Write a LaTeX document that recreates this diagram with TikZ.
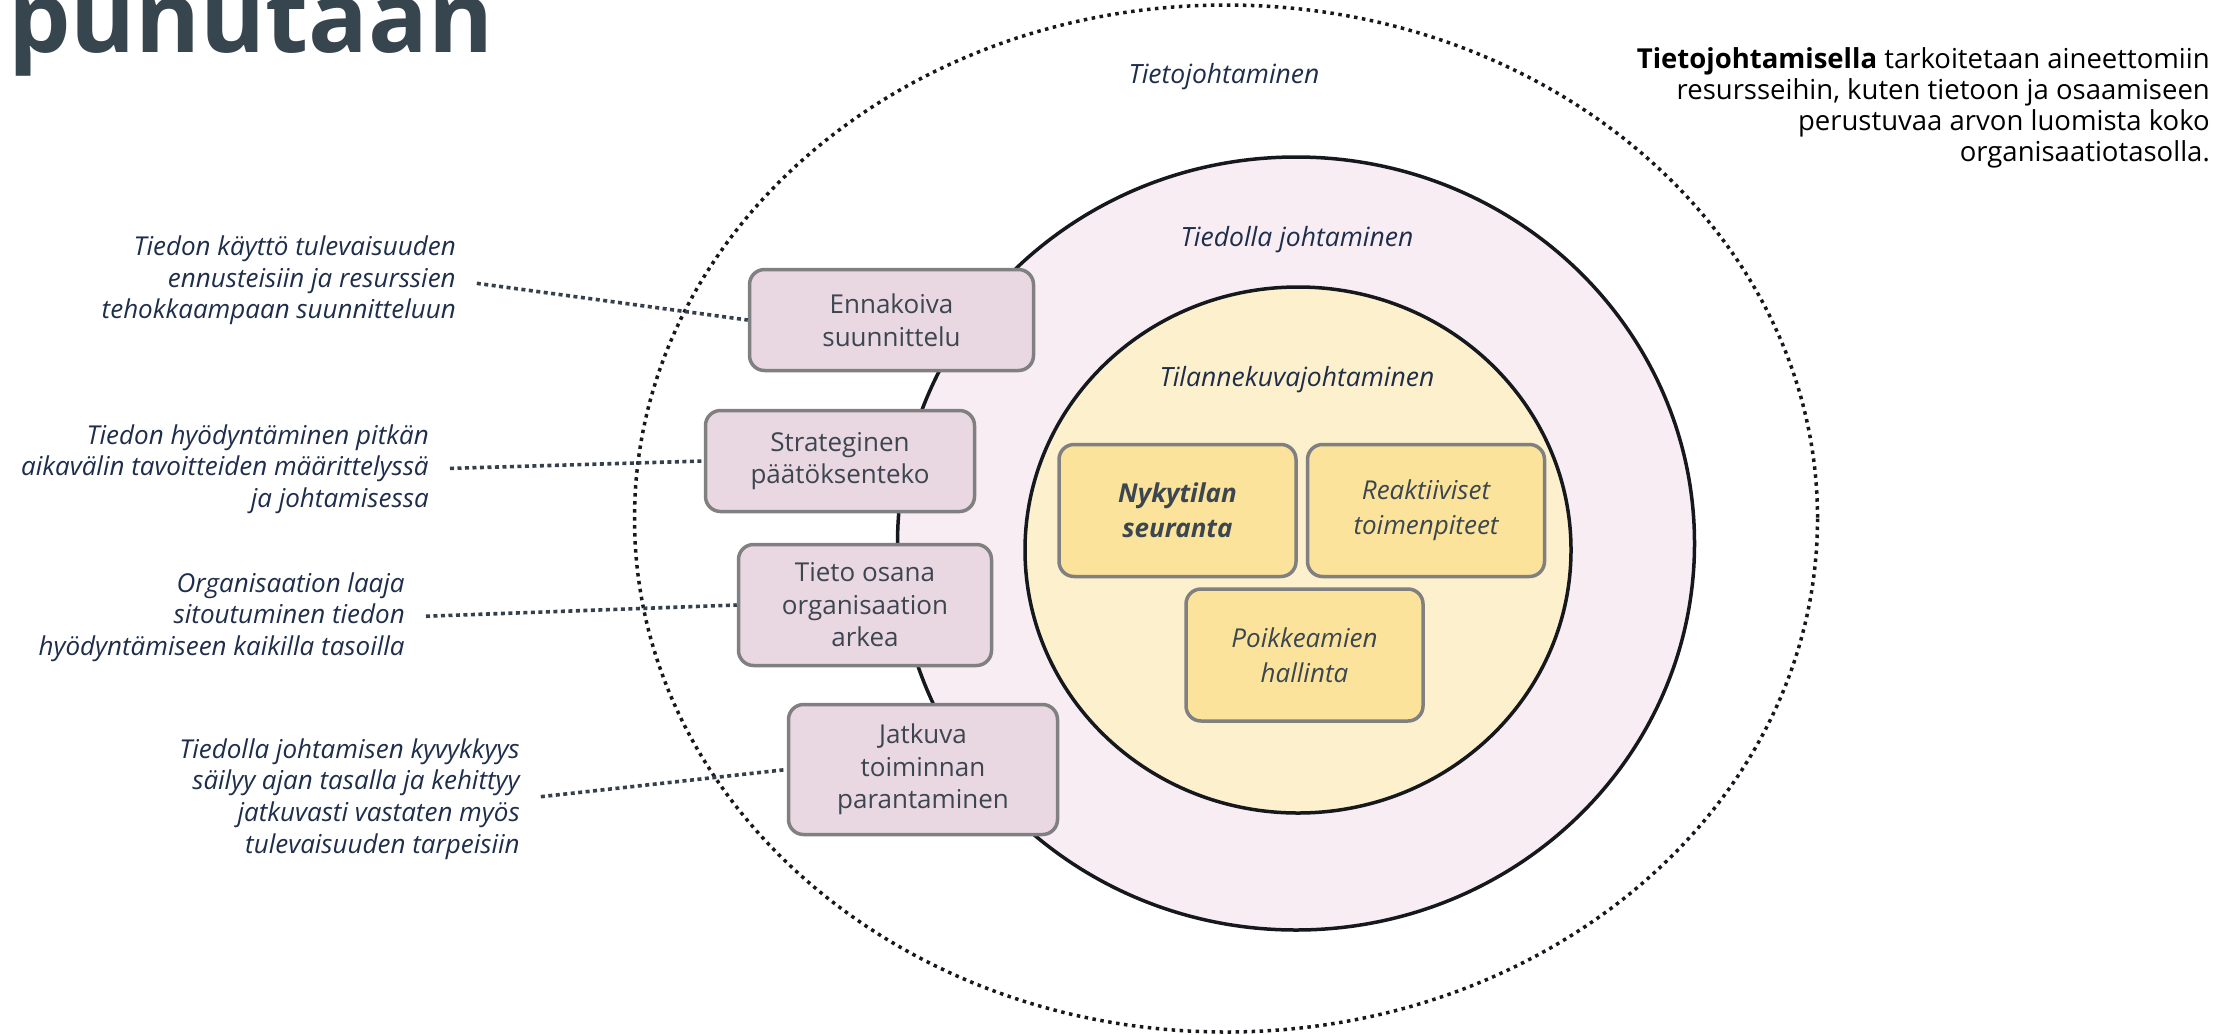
\documentclass[tikz,border=0pt]{standalone}
\usepackage{fontspec}
\setmainfont{Open Sans}
\usepackage{xcolor}
\usepackage{tikz}
\usetikzlibrary{positioning}

\definecolor{titlegray}{HTML}{37454F}
\definecolor{notenavy}{HTML}{1E2D4A}
\definecolor{boxtext}{HTML}{3B4650}
\definecolor{pinkbg}{HTML}{F7EDF3}
\definecolor{creambg}{HTML}{FDF0CD}
\definecolor{pinkbox}{HTML}{E9D7E2}
\definecolor{yellowbox}{HTML}{FBE39B}
\definecolor{boxline}{HTML}{808080}
\definecolor{ringline}{HTML}{15191D}
\definecolor{dotline}{HTML}{34414C}

\tikzset{
  pinknode/.style={draw=boxline, line width=3.5pt, fill=pinkbox, rounded corners=15pt,
    align=center, text=boxtext, font=\fontsize{26}{32.5}\selectfont},
  yellownode/.style={draw=boxline, line width=3.5pt, fill=yellowbox, rounded corners=15pt,
    align=center, text=boxtext, minimum width=237pt, minimum height=132pt,
    font=\itshape\fontsize{26}{35}\selectfont},
  note/.style={align=right, anchor=east, inner sep=0pt, text=notenavy,
    font=\itshape\fontsize{26}{31.6}\selectfont},
  ringlabel/.style={text=notenavy, font=\itshape\fontsize{26.5}{30}\selectfont},
  link/.style={dotline, line width=3.6pt, dash pattern=on 4pt off 3.5pt, shorten <=21pt},
  ring/.style={ringline, line width=3.5pt}
}

\begin{document}
\begin{tikzpicture}[x=1pt, y=-1pt]
  \useasboundingbox (0,0) rectangle (2237,1034);
  \clip (0,0) rectangle (2237,1034);

  % title, cut at the top
  \node[anchor=base west, inner sep=0pt, text=titlegray,
    font=\bfseries\fontsize{99}{100}\selectfont] (title) at (8,52) {punutaan};

  % the three rings
  \draw[ring, dash pattern=on 3.5pt off 4.5pt] (1226,518.5) ellipse [x radius=591.5, y radius=513.5];
  \draw[ring, fill=pinkbg] (1296,543.5) ellipse [x radius=398.5, y radius=386.5];
  \draw[ring, fill=creambg] (1298,550) ellipse [x radius=273, y radius=263];

  \node[ringlabel] (tietoj) at (1224,77) {Tietojohtaminen};
  \node[ringlabel] (tiedollaj) at (1297,240) {Tiedolla johtaminen};
  \node[ringlabel] (tilannej) at (1297,380) {Tilannekuvajohtaminen};

  % boxes on the ring
  \node[pinknode, minimum width=284pt, minimum height=101pt] (ennakoiva) at (891.5,320) {Ennakoiva\\suunnittelu};
  \node[pinknode, minimum width=269pt, minimum height=101pt] (strateg) at (840,461) {Strateginen\\päätöksenteko};
  \node[pinknode, minimum width=253pt, minimum height=121pt] (arki) at (865,605) {Tieto osana\\organisaation\\arkea};
  \node[pinknode, minimum width=269pt, minimum height=130pt] (jatkuva) at (923,769.5) {Jatkuva\\toiminnan\\parantaminen};

  % boxes in the middle
  \node[yellownode] (nykytila) at (1177.5,510.5) {\textbf{Nykytilan}\\\textbf{seuranta}};
  \node[yellownode] (reakt) at (1426,510.5) {Reaktiiviset\\toimenpiteet};
  \node[yellownode] (poikk) at (1304.5,655) {Poikkeamien\\hallinta};

  % notes on the left
  \node[note] (n1) at (456,280.5) {Tiedon käyttö tulevaisuuden\\ennusteisiin ja resurssien\\tehokkaampaan suunnitteluun};
  \node[note] (n2) at (429,469) {Tiedon hyödyntäminen pitkän\\aikavälin tavoitteiden määrittelyssä\\ja johtamisessa};
  \node[note] (n3) at (405,617) {Organisaation laaja\\sitoutuminen tiedon\\hyödyntämiseen kaikilla tasoilla};
  \node[note] (n4) at (520,799) {Tiedolla johtamisen kyvykkyys\\säilyy ajan tasalla ja kehittyy\\jatkuvasti vastaten myös\\tulevaisuuden tarpeisiin};

  \draw[link] (n1.east) -- (ennakoiva.west);
  \draw[link] (n2.east) -- (strateg.west);
  \draw[link] (n3.east) -- (arki.west);
  \draw[link] (n4.east) -- (jatkuva.west);

  % definition on the right
  \node[align=right, anchor=east, inner sep=0pt, text=black,
    font=\fontsize{27.5}{30.8}\selectfont] (maar) at (2210,108)
    {\textbf{Tietojohtamisella} tarkoitetaan aineettomiin\\resursseihin, kuten tietoon ja osaamiseen\\perustuvaa arvon luomista koko\\organisaatiotasolla.};
\end{tikzpicture}
\end{document}
